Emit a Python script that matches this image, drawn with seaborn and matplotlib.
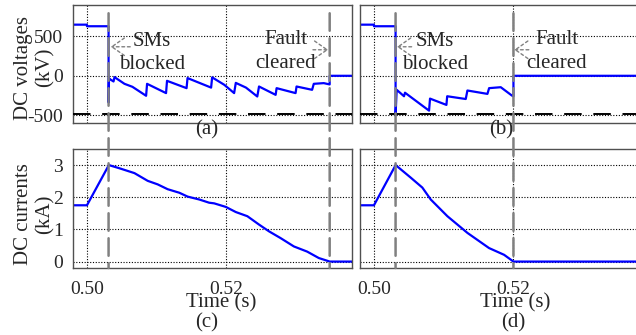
import numpy as np
import pandas as pd
import seaborn as sns
import matplotlib.pyplot as plt
from matplotlib.patches import ConnectionPatch

# Event times (s)
t_block = 0.5031
t_clear = [0.5348, 0.52]

# DC voltages (kV), case (a)
t_va = [0.498, 0.5, 0.5, 0.5031, 0.5031, 0.50316, 0.50324, 0.50381, 0.50395, 0.50538,
        0.50652, 0.50848, 0.50862, 0.51134, 0.51148, 0.51428, 0.51442, 0.5178, 0.51795,
        0.5197, 0.5211, 0.52134, 0.5228, 0.52442, 0.52467, 0.52705, 0.52719, 0.52991,
        0.53005, 0.53228, 0.53252, 0.53395, 0.5348, 0.5348, 0.538]
v_a = [650, 650, 630, 630, -339, -29, -40, -72, -17, -102,
       -140, -254, -102, -220, -64, -157, -29, -150, -20,
       -115, -220, -90, -150, -263, -136, -242, -157, -220,
       -136, -178, -102, -93, -110, 0, 0]

# DC voltages (kV), case (b)
t_vb = [0.498, 0.5, 0.5, 0.5031, 0.5031, 0.50326, 0.50431, 0.50445, 0.5079, 0.50804,
        0.51039, 0.5105, 0.51316, 0.5134, 0.51627, 0.51651, 0.51818, 0.51976, 0.52, 0.52, 0.538]
v_b = [650, 650, 630, 630, -496, -178, -260, -215, -443, -290,
       -370, -260, -295, -187, -230, -157, -145, -250, -260, 0, 0]

# DC currents (kA), case (c)
t_ic = [0.498, 0.5, 0.50314, 0.50467, 0.50681, 0.50871, 0.51014, 0.51157, 0.51324, 0.51443,
        0.5161, 0.51752, 0.51824, 0.5199, 0.52134, 0.523, 0.52467, 0.5261, 0.52776, 0.52967,
        0.53157, 0.53324, 0.53481, 0.538]
i_c = [1.75, 1.75, 3.0, 2.90, 2.75, 2.51, 2.40, 2.25, 2.14, 2.02,
       1.93, 1.83, 1.81, 1.70, 1.54, 1.41, 1.15, 0.94, 0.73, 0.47,
       0.31, 0.11, 0.0, 0.0]

# DC currents (kA), case (d)
t_id = [0.498, 0.5, 0.50311, 0.50527, 0.50694, 0.50814, 0.51053, 0.51341, 0.5165, 0.51866, 0.52, 0.538]
i_d = [1.75, 1.75, 3.0, 2.61, 2.30, 1.93, 1.41, 0.89, 0.42, 0.21, 0.0, 0.0]

neg_pole_kv = -490
v_ticks = [-500, 0, 500]
i_ticks = [0, 1, 2, 3]
x_ticks = [0.50, 0.52]
panel_tags = ['(a)', '(b)', '(c)', '(d)']

sns.set_style('white')
plt.rcParams['font.family'] = ['Liberation Serif', 'DejaVu Serif']
plt.rcParams['axes.unicode_minus'] = False

fig = plt.figure(figsize=(6.36, 3.35), dpi=100)
W, H = 636, 335
def px_axes(x0, y0, x1, y1):
    return fig.add_axes([x0 / W, 1 - y1 / H, (x1 - x0) / W, (y1 - y0) / H])

ax_a = px_axes(73, 5, 352, 123)
ax_b = px_axes(360, 5, 639, 123)
ax_c = px_axes(73, 149, 352, 268)
ax_d = px_axes(360, 149, 639, 268)

blue = '#0000ff'
gray = '#808080'
spine_col = '#505050'

sns.lineplot(x=t_va, y=v_a, ax=ax_a, color=blue, lw=1.6, sort=False, estimator=None)
sns.lineplot(x=t_vb, y=v_b, ax=ax_b, color=blue, lw=1.6, sort=False, estimator=None)
sns.lineplot(x=t_ic, y=i_c, ax=ax_c, color=blue, lw=1.6, sort=False, estimator=None)
sns.lineplot(x=t_id, y=i_d, ax=ax_d, color=blue, lw=1.6, sort=False, estimator=None)

for ax in (ax_a, ax_b):
    ax.axhline(neg_pole_kv, color='black', lw=1.4, ls=(0, (9, 6)), zorder=3)
    ax.set_ylim(-600, 900)
    ax.set_yticks(v_ticks)
for ax in (ax_c, ax_d):
    ax.set_ylim(-0.2, 3.5)
    ax.set_yticks(i_ticks)

for k, ax in enumerate((ax_a, ax_b, ax_c, ax_d)):
    ax.set_xlim(0.498, 0.538)
    ax.set_xticks(x_ticks)
    ax.set_xticklabels(['%.2f' % v for v in x_ticks])
    ax.grid(True, color='black', ls=(0, (1, 1.5)), lw=0.8)
    ax.tick_params(direction='out', length=4, width=0.8, color=spine_col,
                   labelsize=14, pad=3)
    ax.tick_params(axis='x', pad=5)
    for s in ax.spines.values():
        s.set_color(spine_col)
        s.set_linewidth(1.0)
    ax.set_xlabel('')
    ax.set_ylabel('')

ax_a.tick_params(labelbottom=False)
ax_b.tick_params(labelbottom=False, labelleft=False)
ax_d.tick_params(labelleft=False)

ax_a.set_ylabel('DC voltages\n(kV)', fontsize=15, linespacing=1.2)
ax_a.yaxis.set_label_coords(-0.065, 0.47)
ax_c.set_ylabel('DC currents\n(kA)', fontsize=15, linespacing=1.2)
ax_c.yaxis.set_label_coords(-0.065, 0.45)

# panel tags and time labels
ax_a.text(0.48, -0.06, panel_tags[0], transform=ax_a.transAxes, ha='center', va='center', fontsize=15)
ax_b.text(0.505, -0.06, panel_tags[1], transform=ax_b.transAxes, ha='center', va='center', fontsize=15)
ax_c.text(0.53, -0.29, 'Time (s)', transform=ax_c.transAxes, ha='center', va='center', fontsize=15)
ax_d.text(0.555, -0.29, 'Time (s)', transform=ax_d.transAxes, ha='center', va='center', fontsize=15)
ax_c.text(0.48, -0.46, panel_tags[2], transform=ax_c.transAxes, ha='center', va='center', fontsize=15)
ax_d.text(0.55, -0.46, panel_tags[3], transform=ax_d.transAxes, ha='center', va='center', fontsize=15)

# event lines spanning top and bottom panels
for top, bot, tc in ((ax_a, ax_c, t_clear[0]), (ax_b, ax_d, t_clear[1])):
    for t in (t_block, tc):
        con = ConnectionPatch(xyA=(t, 0.93), coordsA=top.get_xaxis_transform(),
                              xyB=(t, 0.0), coordsB=bot.get_xaxis_transform(),
                              color=gray, lw=1.8, linestyle=(0, (7, 3)), zorder=5)
        fig.add_artist(con)

arrow = dict(arrowstyle='->,head_length=0.5,head_width=0.35', color=gray, lw=1.0,
             ls=(0, (2, 2)), mutation_scale=18, shrinkA=0, shrinkB=0)

# annotations (a)
ax_a.text(0.5093, 290, 'SMs\nblocked', ha='center', va='center', fontsize=15, linespacing=1.3)
ax_a.annotate('', xy=(t_block + 0.0003, 369), xytext=(t_block + 0.0031, 369), arrowprops=arrow)
ax_a.text(0.5285, 310, 'Fault\ncleared', ha='center', va='center', fontsize=15, linespacing=1.3)
ax_a.annotate('', xy=(t_clear[0] - 0.0002, 331), xytext=(t_clear[0] - 0.0024, 331), arrowprops=arrow)

# annotations (b)
ax_b.text(0.5087, 290, 'SMs\nblocked', ha='center', va='center', fontsize=15, linespacing=1.3)
ax_b.annotate('', xy=(t_block + 0.0002, 369), xytext=(t_block + 0.0023, 369), arrowprops=arrow)
ax_b.text(0.5262, 310, 'Fault\ncleared', ha='center', va='center', fontsize=15, linespacing=1.3)
ax_b.annotate('', xy=(t_clear[1] + 0.0001, 331), xytext=(t_clear[1] + 0.0022, 331), arrowprops=arrow)

fig.savefig('out.png', dpi=100)
